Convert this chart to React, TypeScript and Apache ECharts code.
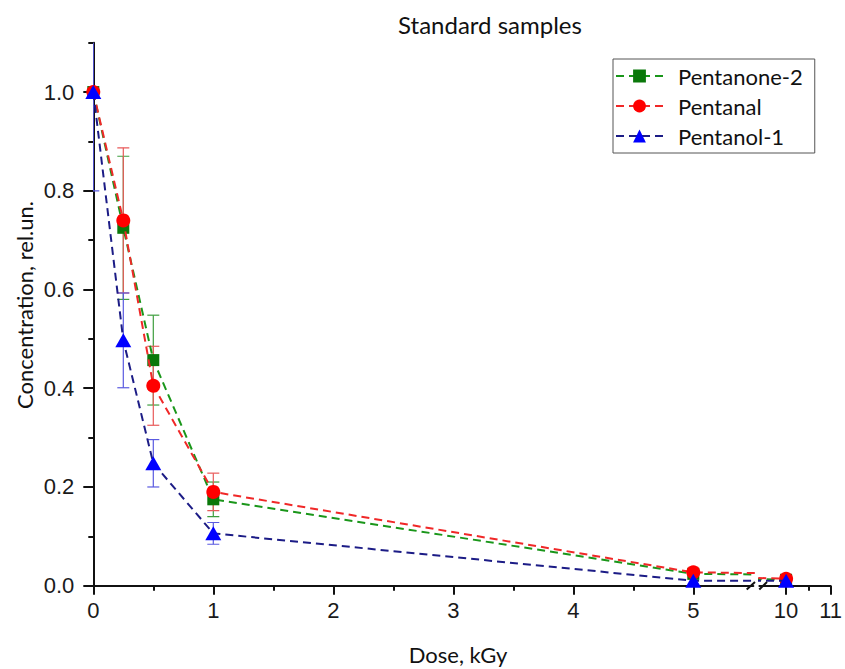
import React, { useEffect, useRef } from "react";
import * as echarts from "echarts";

const doses = [0, 0.25, 0.5, 1, 5, 10];
const seriesNames = ["Pentanone-2", "Pentanal", "Pentanol-1"];
const pentanone2 = [1.0, 0.725, 0.457, 0.175, 0.024, 0.012];
const pentanone2Err = [0, 0.145, 0.091, 0.035, 0, 0];
const pentanal = [1.0, 0.74, 0.405, 0.19, 0.027, 0.014];
const pentanalErr = [0, 0.147, 0.08, 0.038, 0, 0];
const pentanol1 = [1.0, 0.497, 0.248, 0.106, 0.01, 0.01];
const pentanol1Err = [0.2, 0.096, 0.048, 0.022, 0, 0];

const yMajorTicks = [0, 0.2, 0.4, 0.6, 0.8, 1.0];
const yMinorTicks = [0.1, 0.3, 0.5, 0.7, 0.9, 1.1];
const xMajorLeft = [0, 1, 2, 3, 4, 5];
const xMinorLeft = [0.5, 1.5, 2.5, 3.5, 4.5];
const xMajorRight = [10, 11];
const xMinorRight = [10.5];

const lineColors = ["#1a961a", "#f02828", "#1c1c86"];
const markerColors = ["#0a780a", "#ff0000", "#0000ff"];
const errColors = ["#3e9e3e", "#e85a5a", "#5a5ae0"];
const symbols = ["rect", "circle", "triangle"];
const symbolSizes: any[] = [12, 14, [16, 14]];

const AXIS = "#111";
const TICKFONT = "Liberation Sans";
const TEXTFONT = "Lato";

export default function App() {
  const ref = useRef<HTMLDivElement>(null);
  useEffect(() => {
    if (!ref.current) return;
    const chart = echarts.init(ref.current, undefined, { renderer: "svg" });
    const values = [pentanone2, pentanal, pentanol1];
    const errs = [pentanone2Err, pentanalErr, pentanol1Err];

    const mainX = (gridIndex: number, min: number, max: number, ticks: number[]) => ({
      type: "value",
      gridIndex,
      min,
      max,
      position: "bottom",
      axisLine: { show: true, onZero: false, lineStyle: { color: AXIS, width: 2 } },
      axisTick: { show: true, length: 9, lineStyle: { color: AXIS, width: 2 }, customValues: ticks },
      axisLabel: { show: true, customValues: ticks, fontSize: 22, fontFamily: TICKFONT, color: "#1a1a1a", margin: 14 },
      splitLine: { show: false },
    });
    const minorX = (gridIndex: number, min: number, max: number, ticks: number[]) => ({
      type: "value",
      gridIndex,
      min,
      max,
      position: "bottom",
      axisLine: { show: false, onZero: false },
      axisTick: { show: true, length: 5, lineStyle: { color: AXIS, width: 2 }, customValues: ticks },
      axisLabel: { show: false },
      splitLine: { show: false },
    });

    const series: any[] = [];
    seriesNames.forEach((name, k) => {
      const data = doses.map((d, i) => [d, values[k][i]]);
      [0, 2].forEach((xi, g) => {
        series.push({
          type: "line",
          name,
          xAxisIndex: xi,
          yAxisIndex: g === 0 ? 0 : 2,
          data,
          clip: true,
          z: 2 + k,
          symbol: symbols[k],
          symbolSize: symbolSizes[k],
          showAllSymbol: true,
          itemStyle: { color: markerColors[k] },
          lineStyle: { color: lineColors[k], width: 2, type: [8, 5] },
        });
      });
    });
    seriesNames.forEach((name, k) => {
      series.push({
        type: "custom",
        name: name + " error",
        xAxisIndex: 0,
        yAxisIndex: 0,
        clip: true,
        z: 1,
        data: doses
          .map((d, i) => [d, values[k][i] - errs[k][i], values[k][i] + errs[k][i]])
          .filter((_, i) => errs[k][i] > 0),
        encode: { x: 0, y: [1, 2] },
        renderItem: (params: any, api: any) => {
          const x = api.value(0);
          const p1 = api.coord([x, api.value(1)]);
          const p2 = api.coord([x, api.value(2)]);
          const w = 6;
          const st = { stroke: errColors[k], lineWidth: 1.2 };
          return {
            type: "group",
            children: [
              { type: "line", shape: { x1: p1[0], y1: p1[1], x2: p2[0], y2: p2[1] }, style: st },
              { type: "line", shape: { x1: p1[0] - w, y1: p1[1], x2: p1[0] + w, y2: p1[1] }, style: st },
              { type: "line", shape: { x1: p2[0] - w, y1: p2[1], x2: p2[0] + w, y2: p2[1] }, style: st },
            ],
          };
        },
      });
    });

    chart.setOption({
      animation: false,
      grid: [
        { left: 93.3, top: 42.7, width: 660, height: 543, containLabel: false },
        { left: 759.4, top: 42.7, width: 73.6, height: 543, containLabel: false },
      ],
      xAxis: [
        mainX(0, 0, 5.5, xMajorLeft),
        minorX(0, 0, 5.5, xMinorLeft),
        mainX(1, 9.4, 11, xMajorRight),
        minorX(1, 9.4, 11, xMinorRight),
      ],
      yAxis: [
        {
          type: "value",
          gridIndex: 0,
          min: 0,
          max: 1.1,
          position: "left",
          axisLine: { show: true, onZero: false, lineStyle: { color: AXIS, width: 2 } },
          axisTick: { show: true, length: 10, lineStyle: { color: AXIS, width: 2 }, customValues: yMajorTicks },
          axisLabel: {
            show: true,
            customValues: yMajorTicks,
            fontSize: 22,
            fontFamily: TICKFONT,
            color: "#1a1a1a",
            margin: 19,
            formatter: (v: number) => v.toFixed(1),
          },
          splitLine: { show: false },
        },
        {
          type: "value",
          gridIndex: 0,
          min: 0,
          max: 1.1,
          position: "left",
          axisLine: { show: false, onZero: false },
          axisTick: { show: true, length: 5, lineStyle: { color: AXIS, width: 2 }, customValues: yMinorTicks },
          axisLabel: { show: false },
          splitLine: { show: false },
        },
        {
          type: "value",
          gridIndex: 1,
          min: 0,
          max: 1.1,
          show: false,
          splitLine: { show: false },
        },
      ],
      legend: {
        data: seriesNames,
        orient: "vertical",
        left: 613,
        top: 59,
        padding: [6, 12, 6, 2],
        itemWidth: 47,
        itemHeight: 16,
        itemGap: 8,
        borderColor: "#555",
        borderWidth: 1,
        textStyle: { fontFamily: TEXTFONT, fontSize: 22, lineHeight: 22, color: "#111", padding: [0, 0, 0, 10] },
      },
      graphic: [
        {
          type: "text",
          x: 490,
          y: 24,
          style: { text: "Standard samples", fontFamily: TEXTFONT, fontSize: 24, fill: "#111", align: "center", verticalAlign: "middle" },
        },
        {
          type: "text",
          x: 458,
          y: 654,
          style: { text: "Dose, kGy", fontFamily: TEXTFONT, fontSize: 22, fill: "#111", align: "center", verticalAlign: "middle" },
        },
        {
          type: "text",
          x: 24,
          y: 305,
          rotation: Math.PI / 2,
          style: { text: "Concentration, rel.un.", fontFamily: TEXTFONT, fontSize: 22, fill: "#111", align: "center", verticalAlign: "middle" },
        },
        { type: "line", shape: { x1: 746.7, y1: 589.5, x2: 755, y2: 582 }, style: { stroke: AXIS, lineWidth: 2 }, z: 100 },
        { type: "line", shape: { x1: 759.3, y1: 589.5, x2: 767, y2: 582 }, style: { stroke: AXIS, lineWidth: 2 }, z: 100 },
      ],
      series,
    });
    return () => chart.dispose();
  }, []);
  return <div ref={ref} style={{ position: "fixed", left: 0, top: 0, width: 845, height: 669, background: "#fff" }} />;
}
